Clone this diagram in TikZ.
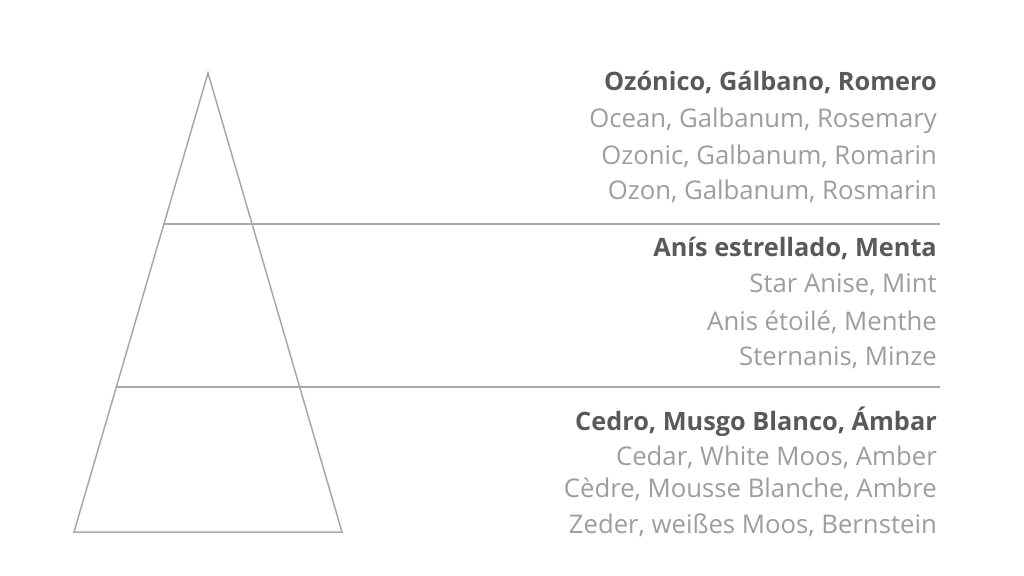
\documentclass[tikz,border=0pt]{standalone}
\usepackage{fontspec}
\usepackage{xcolor}
\setmainfont{Open Sans}
\definecolor{headColor}{HTML}{58595B}
\definecolor{noteColor}{HTML}{9D9D9D}
\definecolor{lineColor}{HTML}{A8A8A8}
\def\textTopA{Ozónico, Gálbano, Romero}
\def\textTopB{Ocean, Galbanum, Rosemary}
\def\textTopC{Ozonic, Galbanum, Romarin}
\def\textTopD{Ozon, Galbanum, Rosmarin}
\def\textMidA{Anís estrellado, Menta}
\def\textMidB{Star Anise, Mint}
\def\textMidC{Anis étoilé, Menthe}
\def\textMidD{Sternanis, Minze}
\def\textBaseA{Cedro, Musgo Blanco, Ámbar}
\def\textBaseB{Cedar, White Moos, Amber}
\def\textBaseC{Cèdre, Mousse Blanche, Ambre}
\def\textBaseD{Zeder, weißes Moos, Bernstein}

\begin{document}
\begin{tikzpicture}[x=1bp,y=-1bp,
  pyramid/.style={draw=lineColor, line width=1.5bp, line join=miter},
  divider/.style={draw=lineColor, line width=1.5bp},
  head/.style={anchor=base east, inner sep=0pt, text=headColor, font=\fontsize{25.4}{27}\selectfont\bfseries},
  note/.style={anchor=base east, inner sep=0pt, text=noteColor, font=\fontsize{25.8}{27}\selectfont}]

% page frame
\useasboundingbox (0, 0) rectangle (1024, 576);

% pyramid layer
\begin{scope}
\coordinate (apex) at (208, 73);
\coordinate (baseL) at (74, 532);
\coordinate (baseR) at (342, 532);
\draw[pyramid] (apex) -- (baseR) -- (baseL) -- cycle;
\end{scope}

% divider layer
\begin{scope}
\coordinate (cutA) at (163.9, 224);
\coordinate (endA) at (940, 224);
\coordinate (cutB) at (116.5, 387);
\coordinate (endB) at (940, 387);
\draw[divider] (cutA) -- (endA);
\draw[divider] (cutB) -- (endB);
\end{scope}

% label layer
\begin{scope}
\node[head] (topA) at (937, 91) {\textTopA};
\node[note] (topB) at (937, 128) {\textTopB};
\node[note] (topC) at (937, 165) {\textTopC};
\node[note] (topD) at (937, 200) {\textTopD};
\node[head] (midA) at (937, 257) {\textMidA};
\node[note] (midB) at (937, 293) {\textMidB};
\node[note] (midC) at (937, 330) {\textMidC};
\node[note] (midD) at (937, 365) {\textMidD};
\node[head] (baseA) at (937, 430) {\textBaseA};
\node[note] (baseB) at (937, 465) {\textBaseB};
\node[note] (baseC) at (937, 497) {\textBaseC};
\node[note] (baseD) at (937, 533) {\textBaseD};
\end{scope}

\end{tikzpicture}
\end{document}
